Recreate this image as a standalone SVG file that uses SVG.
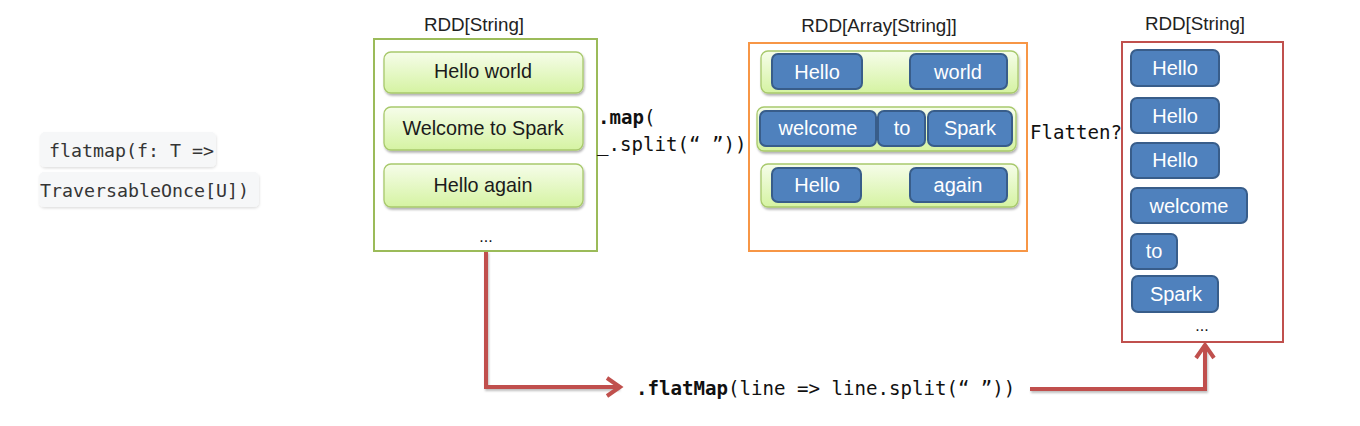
<svg xmlns="http://www.w3.org/2000/svg" width="1360" height="426" viewBox="0 0 1360 426">
<style>
.bg{fill:#ffffff}
.code{fill:#f6f7f8;filter:url(#sh2)}
.ct{font-family:"DejaVu Sans Mono","Liberation Mono",monospace;font-size:18.3px;fill:#353535}
.mono{font-family:"DejaVu Sans Mono","Liberation Mono",monospace;font-size:19.1px;fill:#111}
.mb{font-weight:bold}
.ttl{font-family:"Liberation Sans",Arial,sans-serif;font-size:18.8px;fill:#222;text-anchor:middle}
.gr{fill:url(#gg);stroke:#a8c96c;stroke-width:1.3;filter:url(#sh)}
.gt{font-family:"Liberation Sans",Arial,sans-serif;font-size:19.8px;fill:#1b1b1b;text-anchor:middle}
.bl{fill:#4f81bd;stroke:#385d8a;stroke-width:2}
.bt{font-family:"Liberation Sans",Arial,sans-serif;font-size:20px;fill:#ffffff;text-anchor:middle}
.dots{font-family:"Liberation Sans",Arial,sans-serif;font-size:16px;fill:#111;text-anchor:middle}
.conn{fill:none;stroke:#c0504d;stroke-width:4;filter:url(#sh3)}
.head{fill:none;stroke:#c0504d;stroke-width:4;stroke-linecap:butt;stroke-linejoin:miter}
</style>
<defs>
<linearGradient id="gg" x1="0" y1="0" x2="0" y2="1">
<stop offset="0" stop-color="#f6fdea"/>
<stop offset="1" stop-color="#d5f3a2"/>
</linearGradient>
<filter id="sh" x="-10%" y="-20%" width="120%" height="160%">
<feDropShadow dx="1" dy="2" stdDeviation="1.3" flood-color="#000" flood-opacity="0.3"/>
</filter>
<filter id="sh2" x="-10%" y="-20%" width="120%" height="160%">
<feDropShadow dx="0.5" dy="1.5" stdDeviation="1" flood-color="#000" flood-opacity="0.12"/>
</filter>
<filter id="sh3" x="-10%" y="-10%" width="120%" height="130%">
<feDropShadow dx="1" dy="2" stdDeviation="1.2" flood-color="#000" flood-opacity="0.25"/>
</filter>
</defs>
<rect class="bg" x="0" y="0" width="1360" height="426"/>

<g id="signature">
<rect class="code" x="40" y="132" width="176" height="35" rx="5"/>
<rect class="code" x="39" y="172" width="220" height="35" rx="5"/>
<text class="ct" x="49" y="157">flatmap(f: T =&gt;</text>
<text class="ct" x="40" y="197">TraversableOnce[U])</text>
</g>

<g id="connectors">
<path class="conn" d="M486,251 V387 H619"/>
<polyline class="head" points="607,378 620,387 607,396"/>
<path class="conn" d="M1030,389 H1205 V346"/>
<polyline class="head" points="1196,358 1205,345 1214,358"/>
</g>

<g id="rdd-lines">
<text class="ttl" x="474" y="31">RDD[String]</text>
<rect x="374" y="39" width="223" height="212" fill="#fff" stroke="#9bbb59" stroke-width="2"/>
<rect class="gr" x="384" y="52" width="199" height="41" rx="7"/>
<text class="gt" x="483" y="78">Hello world</text>
<rect class="gr" x="384" y="107" width="199" height="43" rx="7"/>
<text class="gt" x="483" y="135">Welcome to Spark</text>
<rect class="gr" x="384" y="164" width="199" height="43" rx="7"/>
<text class="gt" x="483" y="192">Hello again</text>
<text class="dots" x="486" y="242">...</text>
</g>

<g id="map-label">
<text class="mono" x="598" y="124"><tspan class="mb">.map</tspan>(</text>
<text class="mono" x="597" y="151">_.split(“ ”))</text>
</g>

<g id="rdd-arrays">
<text class="ttl" x="879" y="32">RDD[Array[String]]</text>
<rect x="749" y="43" width="278" height="208" fill="#fff" stroke="#f79646" stroke-width="2"/>
<rect class="gr" x="761" y="51" width="257" height="42" rx="7"/>
<rect class="bl" x="772" y="54" width="90" height="35" rx="6"/>
<text class="bt" x="817" y="79">Hello</text>
<rect class="bl" x="910" y="54" width="97" height="35" rx="6"/>
<text class="bt" x="958" y="79">world</text>
<rect class="gr" x="757" y="107" width="259" height="44" rx="7"/>
<rect class="bl" x="760" y="111" width="116" height="35" rx="6"/>
<text class="bt" x="818" y="135">welcome</text>
<rect class="bl" x="878" y="111" width="47" height="35" rx="6"/>
<text class="bt" x="902" y="135">to</text>
<rect class="bl" x="928" y="111" width="84" height="35" rx="6"/>
<text class="bt" x="970" y="135">Spark</text>
<rect class="gr" x="761" y="164" width="257" height="43" rx="7"/>
<rect class="bl" x="772" y="168" width="89" height="34" rx="6"/>
<text class="bt" x="817" y="192">Hello</text>
<rect class="bl" x="910" y="168" width="97" height="34" rx="6"/>
<text class="bt" x="958" y="192">again</text>
</g>

<g id="flatten-label">
<text class="mono" x="1030" y="139">Flatten?</text>
</g>

<g id="rdd-words">
<text class="ttl" x="1195" y="30">RDD[String]</text>
<rect x="1122" y="42" width="161" height="300" fill="#fff" stroke="#c0504d" stroke-width="2"/>
<rect class="bl" x="1131" y="50" width="88" height="36" rx="6"/>
<text class="bt" x="1175" y="75">Hello</text>
<rect class="bl" x="1131" y="98" width="88" height="35" rx="6"/>
<text class="bt" x="1175" y="123">Hello</text>
<rect class="bl" x="1131" y="143" width="88" height="35" rx="6"/>
<text class="bt" x="1175" y="167">Hello</text>
<rect class="bl" x="1131" y="188" width="116" height="35" rx="6"/>
<text class="bt" x="1189" y="213">welcome</text>
<rect class="bl" x="1131" y="234" width="46" height="35" rx="6"/>
<text class="bt" x="1154" y="258">to</text>
<rect class="bl" x="1132" y="276" width="86" height="36" rx="6"/>
<text class="bt" x="1176" y="301">Spark</text>
<text class="dots" x="1202" y="331">...</text>
</g>

<g id="flatmap-label">
<text class="mono" x="636" y="395"><tspan class="mb">.flatMap</tspan>(line =&gt; line.split(“ ”))</text>
</g>
</svg>
